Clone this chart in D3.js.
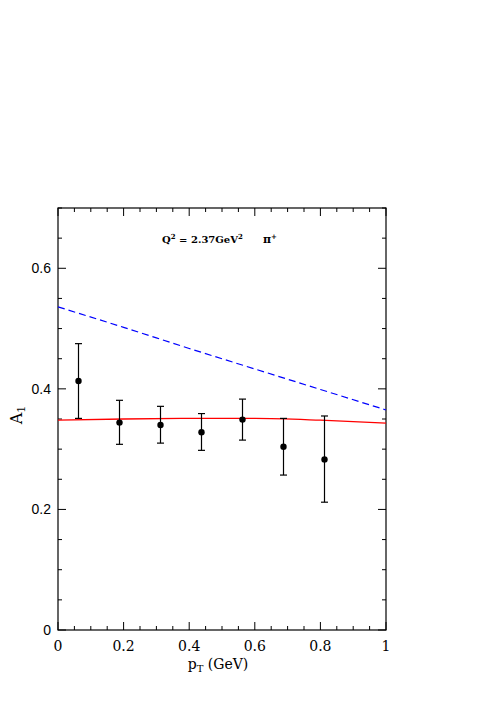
<!DOCTYPE html>
<html>
<head>
<meta charset="utf-8">
<script src="https://cdn.jsdelivr.net/npm/d3@7"></script>
<style>
  body { margin: 0; background: #fff; }
  svg { display: block; }
</style>
</head>
<body>
<div id="graph"></div>
<script>
// data points (binned pT)
const ptBins = [0.0625, 0.1875, 0.3125, 0.4375, 0.5625, 0.6875, 0.8125]
const a1 = [0.413, 0.344, 0.340, 0.328, 0.349, 0.304, 0.283]
const errHi = [0.475, 0.381, 0.371, 0.359, 0.383, 0.351, 0.355]
const errLo = [0.351, 0.308, 0.310, 0.298, 0.315, 0.257, 0.212]

// model curves
const curveX = [0, 0.2, 0.4, 0.6, 0.8, 1.0]
const redCurve = [0.348, 0.350, 0.351, 0.351, 0.348, 0.343]
const blueCurve = [0.536, 0.502, 0.467, 0.433, 0.399, 0.365]

const xTicks = [0, 0.2, 0.4, 0.6, 0.8, 1]
const yTicks = [0, 0.2, 0.4, 0.6]

const w = 491;
const h = 701;
const pLeft = 58, pRight = 386, pTop = 208, pBottom = 630;

const svg = d3.select('#graph').append('svg').attr('width', w).attr('height', h)

const x = d3.scaleLinear().domain([0, 1]).range([pLeft, pRight])
const y = d3.scaleLinear().domain([0, 0.7]).range([pBottom, pTop])

// frame
svg.append('rect')
    .attr('x', pLeft).attr('y', pTop)
    .attr('width', pRight - pLeft).attr('height', pBottom - pTop)
    .attr('fill', 'none').attr('stroke', '#000').attr('stroke-width', 1.2)

// ticks (major every 0.2, minor every 0.05)
const xMinor = d3.range(0, 1.0001, 0.05)
const yMinor = d3.range(0, 0.7001, 0.05)
const isMajor = v => Math.abs(v / 0.2 - Math.round(v / 0.2)) < 1e-6

const tickG = svg.append('g').attr('stroke', '#000').attr('stroke-width', 1)
xMinor.forEach(v => {
    const len = isMajor(v) ? 8 : 4
    tickG.append('line').attr('x1', x(v)).attr('x2', x(v)).attr('y1', pBottom).attr('y2', pBottom - len)
    tickG.append('line').attr('x1', x(v)).attr('x2', x(v)).attr('y1', pTop).attr('y2', pTop + len)
})
yMinor.forEach(v => {
    const len = isMajor(v) ? 8 : 4
    tickG.append('line').attr('x1', pLeft).attr('x2', pLeft + len).attr('y1', y(v)).attr('y2', y(v))
    tickG.append('line').attr('x1', pRight).attr('x2', pRight - len).attr('y1', y(v)).attr('y2', y(v))
})

// tick labels
svg.selectAll('.xlab')
    .data(xTicks)
    .enter()
    .append('text')
    .attr('class', 'xlab')
    .attr('x', d => x(d))
    .attr('y', 651)
    .attr('text-anchor', 'middle')
    .attr('font-family', 'DejaVu Serif')
    .attr('font-size', '14px')
    .text(d => d)

svg.selectAll('.ylab')
    .data(yTicks)
    .enter()
    .append('text')
    .attr('class', 'ylab')
    .attr('x', 51)
    .attr('y', d => y(d) + 5)
    .attr('text-anchor', 'end')
    .attr('font-family', 'Liberation Sans')
    .attr('font-size', '14px')
    .text(d => d)

// axis titles
const xt = svg.append('text')
    .attr('x', 218).attr('y', 669)
    .attr('text-anchor', 'middle')
    .attr('font-family', 'DejaVu Serif')
    .attr('font-size', '14px')
xt.append('tspan').text('p')
xt.append('tspan').attr('font-size', '10px').attr('dy', 3).text('T')
xt.append('tspan').attr('dy', -3).text(' (GeV)')

const yt = svg.append('text')
    .attr('transform', 'translate(22,415) rotate(-90)')
    .attr('text-anchor', 'middle')
    .attr('font-family', 'DejaVu Serif')
    .attr('font-size', '16px')
yt.append('tspan').text('A')
yt.append('tspan').attr('font-size', '11px').attr('dy', 3).text('1')

// label in plot
const lab = svg.append('text')
    .attr('x', 162).attr('y', 243)
    .attr('font-family', 'DejaVu Serif')
    .attr('font-weight', 'bold')
    .attr('font-size', '10px')
lab.append('tspan').text('Q')
lab.append('tspan').attr('font-size', '7px').attr('dy', -4).text('2')
lab.append('tspan').attr('dy', 4).text(' =  2.37GeV')
lab.append('tspan').attr('font-size', '7px').attr('dy', -4).text('2')

const lab2 = svg.append('text')
    .attr('x', 263).attr('y', 243)
    .attr('font-family', 'DejaVu Serif')
    .attr('font-weight', 'bold')
    .attr('font-size', '11px')
lab2.append('tspan').text('π')
lab2.append('tspan').attr('font-size', '7px').attr('dy', -4).text('+')

// curves
const line = d3.line().x(d => x(d[0])).y(d => y(d[1])).curve(d3.curveMonotoneX)

svg.append('path')
    .datum(d3.zip(curveX, blueCurve))
    .attr('d', line)
    .attr('fill', 'none')
    .attr('stroke', '#0000ff')
    .attr('stroke-width', 1.2)
    .attr('stroke-dasharray', '7,4')

svg.append('path')
    .datum(d3.zip(curveX, redCurve))
    .attr('d', line)
    .attr('fill', 'none')
    .attr('stroke', '#ff0000')
    .attr('stroke-width', 1.3)

// error bars
const pts = ptBins.map((v, i) => ({ x: v, y: a1[i], hi: errHi[i], lo: errLo[i] }))
const eb = svg.append('g').attr('stroke', '#000').attr('stroke-width', 1.2)
pts.forEach(d => {
    eb.append('line').attr('x1', x(d.x)).attr('x2', x(d.x)).attr('y1', y(d.hi)).attr('y2', y(d.lo))
    eb.append('line').attr('x1', x(d.x) - 3.5).attr('x2', x(d.x) + 3.5).attr('y1', y(d.hi)).attr('y2', y(d.hi))
    eb.append('line').attr('x1', x(d.x) - 3.5).attr('x2', x(d.x) + 3.5).attr('y1', y(d.lo)).attr('y2', y(d.lo))
})

svg.selectAll('circle')
    .data(pts)
    .enter()
    .append('circle')
    .attr('cx', d => x(d.x))
    .attr('cy', d => y(d.y))
    .attr('r', 3.2)
    .attr('fill', '#000')
</script>
</body>
</html>
